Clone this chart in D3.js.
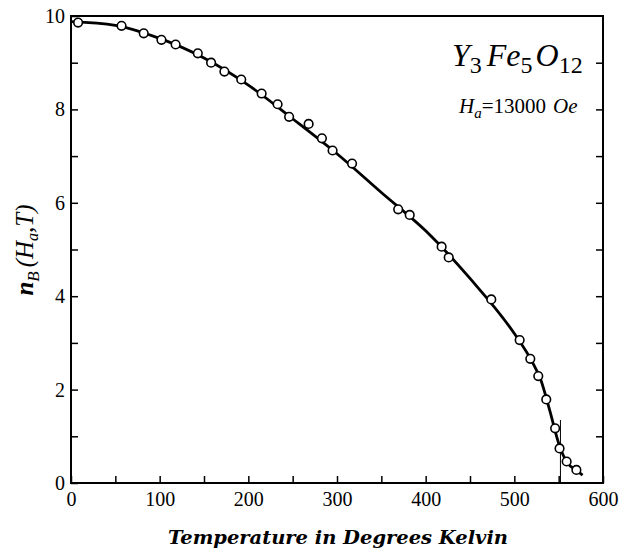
<!DOCTYPE html>
<html>
<head>
<meta charset="utf-8">
<script src="https://cdn.jsdelivr.net/npm/d3@7"></script>
<style>
  html, body { margin: 0; padding: 0; background: #fff; }
  svg { display: block; }
  text { font-family: "Liberation Serif", "DejaVu Serif", serif; fill: #000; }
</style>
</head>
<body>
<svg id="chart" width="620" height="551"></svg>
<script>
// Measured points (circles)
const pointT = [8, 57, 82, 102, 118, 143, 158, 173, 192, 215, 233, 246, 268, 283, 295, 317, 369, 382, 418, 426, 474, 506, 518, 527, 536, 546, 551, 559, 570];
const pointN = [9.86, 9.79, 9.63, 9.49, 9.39, 9.2, 9.0, 8.81, 8.64, 8.34, 8.11, 7.84, 7.69, 7.38, 7.12, 6.84, 5.86, 5.74, 5.06, 4.83, 3.93, 3.06, 2.66, 2.29, 1.79, 1.17, 0.74, 0.46, 0.28];
// Smooth fitted curve
const curveT = [0, 50, 100, 150, 200, 250, 300, 350, 400, 450, 500, 520, 530, 540, 550, 555, 560, 570, 577];
const curveN = [9.88, 9.8, 9.52, 9.1, 8.52, 7.8, 7.05, 6.22, 5.4, 4.38, 3.2, 2.6, 2.2, 1.55, 0.85, 0.6, 0.43, 0.27, 0.17];
// Axis ticks
const xTickLabels = [0, 100, 200, 300, 400, 500, 600];
const xMinorTicks = [50, 150, 250, 350, 450, 550];
const yTickLabels = [0, 2, 4, 6, 8, 10];
const yMinorTicks = [1, 3, 5, 7, 9];
const curieT = [552];

const svg = d3.select("#chart");
const x = d3.scaleLinear().domain([0, 600]).range([71, 603]);
const y = d3.scaleLinear().domain([0, 10]).range([483, 16]);

// Frame
svg.append("rect")
  .attr("x", x(0)).attr("y", y(10))
  .attr("width", x(600) - x(0)).attr("height", y(0) - y(10))
  .attr("fill", "none").attr("stroke", "#000").attr("stroke-width", 2);

// Bottom axis ticks (inward)
const xAxis = d3.axisBottom(x).tickValues(xTickLabels.concat(xMinorTicks))
  .tickSizeInner(-7).tickSizeOuter(0).tickFormat(d => xTickLabels.includes(d) ? d : "");
const gx = svg.append("g").attr("transform", `translate(0,${y(0)})`).call(xAxis);
gx.select(".domain").remove();
gx.selectAll(".tick line").attr("stroke-width", 1.5);
gx.selectAll(".tick text").attr("y", 9).attr("dy", "0.71em")
  .style("font-size", "20px").style("font-family", "Liberation Serif");

// Left axis ticks (inward)
const yAxis = d3.axisLeft(y).tickValues(yTickLabels.concat(yMinorTicks))
  .tickSizeInner(-7).tickSizeOuter(0).tickFormat(d => yTickLabels.includes(d) ? d : "");
const gy = svg.append("g").attr("transform", `translate(${x(0)},0)`).call(yAxis);
gy.select(".domain").remove();
gy.selectAll(".tick line").attr("stroke-width", 1.5);
gy.selectAll(".tick text").attr("x", -6)
  .style("font-size", "20px").style("font-family", "Liberation Serif");

// Right axis ticks (inward)
const yAxisR = d3.axisRight(y).tickValues(yTickLabels.concat(yMinorTicks).filter(d => d > 0 && d < 10))
  .tickSizeInner(-7).tickSizeOuter(0).tickFormat("");
const gyr = svg.append("g").attr("transform", `translate(${x(600)},0)`).call(yAxisR);
gyr.select(".domain").remove();
gyr.selectAll(".tick line").attr("stroke-width", 1.5);

// Thin vertical marker near Curie point
svg.selectAll(".curie").data(curieT).enter().append("line")
  .attr("x1", d => x(d)).attr("x2", d => x(d))
  .attr("y1", y(1.35)).attr("y2", y(0))
  .attr("stroke", "#000").attr("stroke-width", 1);

// Curve
const curveData = curveT.map((t, i) => [t, curveN[i]]);
svg.append("path")
  .datum(curveData)
  .attr("d", d3.line().x(d => x(d[0])).y(d => y(d[1])).curve(d3.curveMonotoneX))
  .attr("fill", "none").attr("stroke", "#000").attr("stroke-width", 2.8);

// Points
const pts = pointT.map((t, i) => [t, pointN[i]]);
svg.selectAll(".pt").data(pts).enter().append("circle")
  .attr("cx", d => x(d[0])).attr("cy", d => y(d[1])).attr("r", 4.3)
  .attr("fill", "#fff").attr("stroke", "#000").attr("stroke-width", 1.6);

// Formula label
const f = svg.append("text").attr("x", 452).attr("y", 66).style("font-size", "32px");
f.append("tspan").style("font-style", "italic").text("Y");
f.append("tspan").attr("dy", 7).style("font-size", "24px").text("3");
f.append("tspan").attr("dy", -7).attr("dx", 5).style("font-style", "italic").text("Fe");
f.append("tspan").attr("dy", 7).style("font-size", "24px").text("5");
f.append("tspan").attr("dy", -7).attr("dx", 3).style("font-style", "italic").text("O");
f.append("tspan").attr("dy", 7).style("font-size", "24px").text("12");

const h = svg.append("text").attr("x", 459).attr("y", 113).style("font-size", "21px");
h.append("tspan").style("font-style", "italic").text("H");
h.append("tspan").attr("dy", 5).style("font-style", "italic").style("font-size", "15px").text("a");
h.append("tspan").attr("dy", -5).text("=13000");
h.append("tspan").attr("dx", 7).style("font-style", "italic").text("Oe");

// Y axis title
const yt = svg.append("text")
  .attr("transform", "translate(33,250) rotate(-90)")
  .attr("text-anchor", "middle").style("font-size", "25px").style("font-style", "italic");
yt.append("tspan").style("font-weight", "bold").text("n");
yt.append("tspan").attr("dy", 6).style("font-size", "17px").text("B");
yt.append("tspan").attr("dy", -6).attr("dx", 4).text("(H");
yt.append("tspan").attr("dy", 5).style("font-size", "16px").text("a");
yt.append("tspan").attr("dy", -5).text(",T)");

// X axis title
svg.append("text").attr("x", 338).attr("y", 544).attr("text-anchor", "middle")
  .attr("textLength", 340).attr("lengthAdjust", "spacingAndGlyphs")
  .style("font-family", "DejaVu Serif")
  .style("font-size", "18px").style("font-style", "italic").style("font-weight", "bold")
  .text("Temperature in Degrees Kelvin");
</script>
</body>
</html>
